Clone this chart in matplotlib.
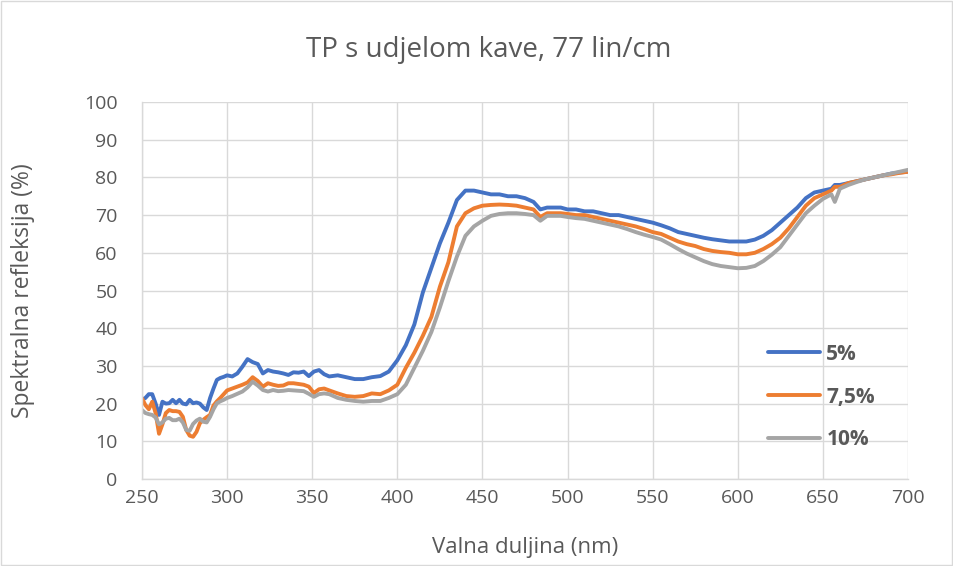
import matplotlib
matplotlib.use("Agg")
import matplotlib.pyplot as plt
from matplotlib.patches import Rectangle

title = "TP s udjelom kave, 77 lin/cm"
x_label = "Valna duljina (nm)"
y_label = "Spektralna refleksija (%)"
series_names = ["5%", "7,5%", "10%"]
colors = ["#4472C4", "#ED7D31", "#A5A5A5"]

wavelength = [250, 252, 254, 256, 258, 260, 262, 264, 266, 268, 270, 272, 274, 276, 278, 280,
              282, 284, 286, 288, 290, 292, 294, 296, 298, 300,
              303, 306, 309, 312, 315, 318, 321, 324, 327, 330, 333, 336, 339, 342, 345, 348,
              351, 354, 357, 360,
              365, 370, 375, 380, 385, 390, 395, 400, 405, 410, 415, 420, 425, 430, 435, 440,
              445, 450, 455, 460, 465, 470, 475, 480,
              484, 488, 492, 496, 500,
              505, 510, 515, 520, 525, 530, 535, 540, 545, 550, 555, 560, 565, 570, 575, 580,
              585, 590, 595, 600, 605, 610, 615, 620, 625, 630, 635, 640, 645, 650, 655,
              657,
              660, 665, 670, 675, 680, 685, 690, 695, 700]

s5 = [21, 21.5, 22.5, 22.5, 20, 17, 20.5, 20, 20.1, 21, 20.1, 21, 20, 19.8, 21, 20.1,
      20.3, 20, 19, 18.3, 21.5, 24, 26.3, 26.8, 27.1, 27.5,
      27.2, 28, 29.8, 31.8, 31, 30.5, 28, 28.9, 28.5, 28.3, 28, 27.6, 28.3, 28.2, 28.5, 27.3,
      28.5, 28.9, 27.8, 27.2,
      27.5, 27, 26.5, 26.5, 27, 27.3, 28.5, 31.5, 35.5, 41, 49.5, 56, 62.5, 68, 74, 76.5,
      76.5, 76, 75.5, 75.5, 75, 75, 74.5, 73.5,
      71.5, 72, 72, 72, 71.5,
      71.5, 71, 71, 70.5, 70, 70, 69.5, 69, 68.5, 68, 67.3, 66.5, 65.5, 65, 64.5, 64,
      63.6, 63.3, 63, 63, 63, 63.5, 64.5, 66, 68, 70, 72, 74.5, 76, 76.5, 77,
      78,
      78, 78.5, 79, 79.5, 80, 80.5, 81, 81.3, 81.5]

s75 = [21.4, 19.6, 18.5, 20.5, 17.5, 12, 14.5, 17.5, 18.3, 18, 18, 17.8, 16.5, 13, 11.5, 11.2,
       12.5, 14.8, 15.7, 16.4, 17, 19.5, 20.6, 21.5, 22.5, 23.5,
       24, 24.5, 25, 25.6, 27, 26, 24.5, 25.4, 25, 24.7, 24.8, 25.4, 25.4, 25.2, 25, 24.5,
       22.8, 23.8, 24, 23.5,
       22.7, 22, 21.8, 22, 22.7, 22.5, 23.5, 25, 29.5, 33.5, 38, 43, 51, 57.5, 67, 70.5,
       71.8, 72.5, 72.7, 72.8, 72.7, 72.5, 72, 71.5,
       69.5, 70.5, 70.5, 70.5, 70.3,
       70, 70, 69.5, 69, 68.5, 68, 67.5, 67, 66.3, 65.5, 65, 64, 63, 62.3, 61.8, 61,
       60.5, 60.2, 60, 59.6, 59.6, 60, 61, 62.3, 64, 66.5, 69.5, 72.5, 74.5, 75.5, 76.5,
       77.5,
       77.5, 78.5, 79, 79.5, 80, 80.5, 80.8, 81.2, 81.5]

s10 = [18.3, 17.5, 17.2, 17, 16.3, 14.5, 15, 16, 16.2, 15.6, 15.6, 16, 15, 13, 12.8, 14.6,
       15.5, 16, 15.2, 15, 16.5, 18.5, 20.1, 20.6, 21, 21.5,
       22, 22.6, 23.2, 24.3, 25.8, 24.8, 23.6, 23.2, 23.6, 23.3, 23.4, 23.6, 23.5, 23.4, 23.3, 22.6,
       21.8, 22.5, 22.7, 22.5,
       21.5, 21, 20.7, 20.5, 20.7, 20.7, 21.5, 22.5, 25, 29.5, 34, 39, 45.5, 52.5, 59, 64.5,
       67, 68.5, 69.8, 70.3, 70.5, 70.5, 70.3, 70,
       68.5, 69.8, 69.8, 69.8, 69.5,
       69.2, 69, 68.5, 68, 67.5, 67, 66.3, 65.5, 64.8, 64.2, 63.5, 62.3, 61, 59.8, 58.8, 57.8,
       57, 56.5, 56.2, 55.9, 56, 56.5, 57.8, 59.5, 61.5, 64.5, 67.5, 70.5, 72.5, 74.3, 75.5,
       73.5,
       77, 78, 78.8, 79.5, 80, 80.5, 81, 81.5, 82]

x_ticks = [250, 300, 350, 400, 450, 500, 550, 600, 650, 700]
y_ticks = [0, 10, 20, 30, 40, 50, 60, 70, 80, 90, 100]

plt.rcParams['font.family'] = ['Open Sans', 'DejaVu Sans']
text_color = "#595959"
grid_color = "#D9D9D9"

fig = plt.figure(figsize=(9.54, 5.66), dpi=100)
ax = fig.add_axes([142 / 954, 1 - 479 / 566, (908 - 142) / 954, (479 - 102) / 566])

for vals, name, c in zip([s5, s75, s10], series_names, colors):
    ax.plot(wavelength, vals, color=c, lw=2.8, label=name,
            solid_capstyle='round', solid_joinstyle='round')

ax.set_xlim(250, 700)
ax.set_ylim(0, 100)
ax.set_xticks(x_ticks)
ax.set_yticks(y_ticks)
ax.tick_params(length=0, labelsize=14, colors=text_color)
ax.tick_params(axis='y', pad=17.5)
ax.tick_params(axis='x', pad=7)
ax.grid(True, color=grid_color, lw=1.0)
ax.set_axisbelow(True)
for side in ["top", "right"]:
    ax.spines[side].set_visible(False)
for side in ["left", "bottom"]:
    ax.spines[side].set_color(grid_color)
    ax.spines[side].set_linewidth(1.0)

ax.set_xlabel(x_label, fontsize=16, color=text_color, va='center')
ax.xaxis.set_label_coords(0.5, (479 - 548) / 377)
ax.set_ylabel(y_label, fontsize=16.5, color=text_color, va='center')
ax.yaxis.set_label_coords((23 - 142) / 766, 0.5)
fig.text(489 / 954, 1 - 50 / 566, title, ha='center', va='center', fontsize=20, color=text_color)

leg = ax.legend(loc='center left', bbox_to_anchor=((768 - 142) / 766, (479 - 397) / 377),
                frameon=False, fontsize=15, labelspacing=1.05, handlelength=2.5,
                handletextpad=0.3, borderpad=0, borderaxespad=0)
for t in leg.get_texts():
    t.set_color(text_color)
    t.set_fontweight('bold')

fig.patches.append(Rectangle((0.001, 0.001), 0.997, 0.997, transform=fig.transFigure,
                             fill=False, edgecolor=grid_color, lw=1.0))

fig.savefig("out.png", dpi=100, facecolor="white")
